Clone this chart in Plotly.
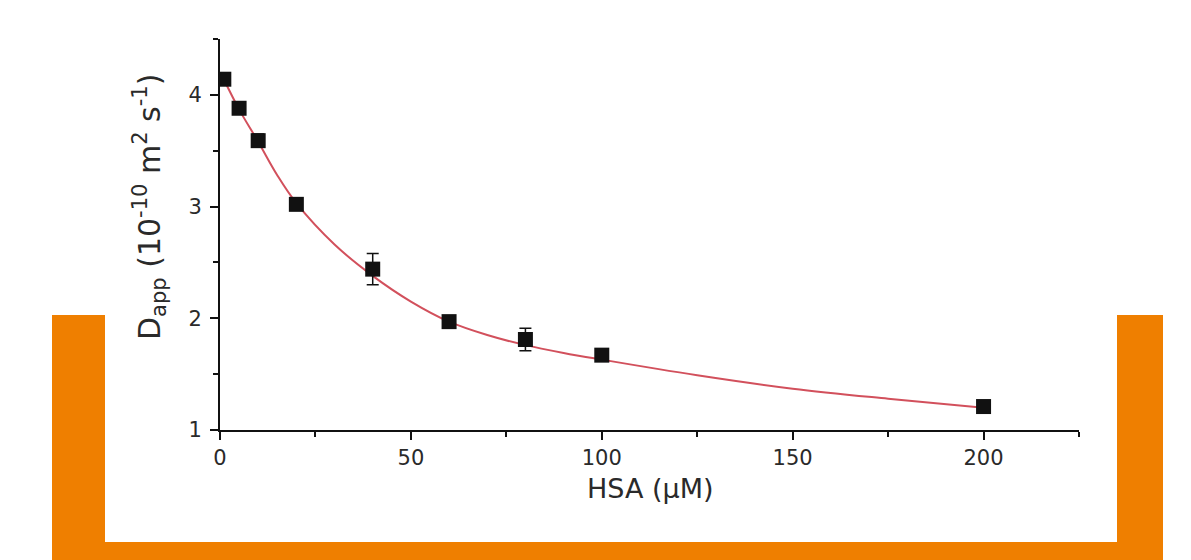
import plotly.graph_objects as go

# Data
hsa_um = [1, 5, 10, 20, 40, 60, 80, 100, 200]
d_app = [4.14, 3.88, 3.59, 3.02, 2.44, 1.97, 1.81, 1.67, 1.21]
d_err = [0.02, 0.02, 0.06, 0.02, 0.14, 0.03, 0.10, 0.02, 0.02]

fit_x = [1, 5, 10, 15, 20, 30, 40, 50, 60, 70, 80, 90, 100, 125, 150, 175, 200]
fit_y = [4.14, 3.87, 3.58, 3.28, 3.03, 2.66, 2.38, 2.15, 1.97, 1.85, 1.76, 1.69, 1.63, 1.49, 1.37, 1.28, 1.20]

x_ticks = [0, 50, 100, 150, 200]
y_ticks = [1, 2, 3, 4]

x_title = "HSA (μM)"
y_title = "D<sub>app</sub> (10<sup>-10</sup> m<sup>2</sup> s<sup>-1</sup>)"

# Page has an 8px body margin; window coordinates below
OFF = 8
WIN_W, WIN_H = 1191, 560
W, H = WIN_W - OFF, WIN_H - OFF
L, R, T, B = 220, 1079, 39, 430  # plot area in window pixels

def px(x):
    return (x - L) / (R - L)

def py(y):
    return (B - y) / (B - T)

fig = go.Figure()

fig.add_trace(go.Scatter(
    x=fit_x, y=fit_y, mode="lines", line=dict(color="#d2505c", width=2, shape="spline"),
    showlegend=False, hoverinfo="skip"))

fig.add_trace(go.Scatter(
    x=hsa_um, y=d_app, mode="markers",
    marker=dict(symbol="square", size=15, color="#111111"),
    error_y=dict(type="data", array=d_err, visible=True, color="#111111", thickness=1.5, width=6),
    showlegend=False))

orange = "#ef7f00"
shapes = [
    dict(type="rect", xref="paper", yref="paper", x0=px(52), x1=px(105), y0=py(315), y1=py(562),
         fillcolor=orange, line=dict(width=0), layer="below"),
    dict(type="rect", xref="paper", yref="paper", x0=px(1117), x1=px(1163), y0=py(315), y1=py(562),
         fillcolor=orange, line=dict(width=0), layer="below"),
    dict(type="rect", xref="paper", yref="paper", x0=px(52), x1=px(1163), y0=py(542), y1=py(562),
         fillcolor=orange, line=dict(width=0), layer="below"),
]

font_family = "DejaVu Sans, Arial, sans-serif"
txt = "#2a2a2a"

annotations = [
    dict(text=x_title, xref="paper", yref="paper", x=px(650), y=py(488),
         xanchor="center", yanchor="middle", showarrow=False,
         font=dict(size=27, family=font_family, color=txt)),
    dict(text=y_title, xref="paper", yref="paper", x=px(150), y=py(207),
         xanchor="center", yanchor="middle", showarrow=False, textangle=-90,
         font=dict(size=30, family=font_family, color=txt)),
]

fig.update_layout(
    width=W, height=H,
    margin=dict(l=L - OFF, r=W - (R - OFF), t=T - OFF, b=H - (B - OFF)),
    paper_bgcolor="white", plot_bgcolor="rgba(0,0,0,0)",
    font=dict(family=font_family, color=txt),
    shapes=shapes,
    annotations=annotations,
    xaxis=dict(
        range=[0, 225], tickvals=x_ticks, ticktext=[str(v) for v in x_ticks],
        showline=True, linecolor="#111111", linewidth=2, mirror=False,
        ticks="outside", ticklen=8, tickwidth=2, tickcolor="#111111",
        minor=dict(dtick=25, ticks="outside", ticklen=5, tickwidth=2, tickcolor="#111111", showgrid=False),
        showgrid=False, zeroline=False,
        tickfont=dict(size=21, family=font_family, color=txt),
    ),
    yaxis=dict(
        range=[1, 4.5], tickvals=y_ticks, ticktext=[str(v) for v in y_ticks],
        showline=True, linecolor="#111111", linewidth=2, mirror=False,
        ticks="outside", ticklen=8, tickwidth=2, tickcolor="#111111",
        minor=dict(dtick=0.5, tick0=1, ticks="outside", ticklen=5, tickwidth=2, tickcolor="#111111", showgrid=False),
        showgrid=False, zeroline=False,
        tickfont=dict(size=21, family=font_family, color=txt),
        ticklabelstandoff=4,
    ),
)

fig.write_html("out.html")
